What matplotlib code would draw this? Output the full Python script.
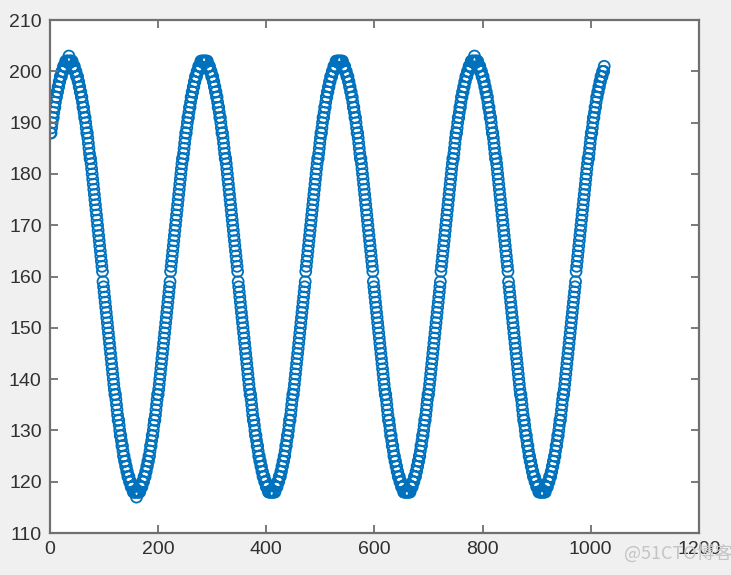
import numpy as np
import matplotlib
matplotlib.use('Agg')
import matplotlib.pyplot as plt

y_values = [
    # x = 1..35 (rising to first peak)
    188, 188, 189, 190, 191, 191, 192, 193, 193, 194, 195, 195, 196, 196, 197, 197, 198, 198, 199, 199,
    199, 200, 200, 200, 201, 201, 201, 201, 202, 202, 202, 202, 202, 202, 203,
    # falling
    202, 202, 202, 202, 202, 202, 201, 201, 201, 201, 200, 200, 200, 199, 199, 199, 198, 198, 197, 197,
    196, 196, 195, 195, 194, 193, 193, 192, 191, 191, 190, 189, 188, 188, 187, 186, 185, 184, 183, 183,
    182, 181, 180, 179, 178, 177, 176, 175, 174, 173, 172, 171, 170, 169, 168, 167, 166, 165, 164, 163,
    162, 161,
    159, 158, 157, 156, 155, 154, 153, 152, 151, 150, 149, 148, 147, 146, 145, 144, 143, 142, 141, 140,
    139, 138, 137, 137, 136, 135, 134, 133, 132, 132, 131, 130, 129, 129, 128, 127, 127, 126, 125, 125,
    124, 124, 123, 123, 122, 122, 121, 121, 121, 120, 120, 120, 119, 119, 119, 119, 118, 118, 118, 118,
    118, 118, 117,
    # rising
    118, 118, 118, 118, 118, 118, 119, 119, 119, 119, 120, 120, 120, 121, 121, 121, 122, 122, 123, 123,
    124, 124, 125, 125, 126, 127, 127, 128, 129, 129, 130, 131, 132, 132, 133, 134, 135, 136, 137, 137,
    138, 139, 140, 141, 142, 143, 144, 145, 146, 147, 148, 149, 150, 151, 152, 153, 154, 155, 156, 157,
    158, 159,
    # second period
    161, 162, 163, 164, 165, 166, 167, 168, 169, 170, 171, 172, 173, 174, 175, 176, 177, 178, 179, 180,
    181, 182, 183, 183, 184, 185, 186, 187, 188, 188, 189, 190, 191, 191, 192, 193, 193, 194, 195, 195,
    196, 196, 197, 197, 198, 198, 199, 199, 199, 200, 200, 200, 201, 201, 201, 201, 202, 202, 202, 202,
    202, 202, 202,
    202, 202, 202, 202, 202, 202, 201, 201, 201, 201, 200, 200, 200, 199, 199, 199, 198, 198, 197, 197,
    196, 196, 195, 195, 194, 193, 193, 192, 191, 191, 190, 189, 188, 188, 187, 186, 185, 184, 183, 183,
    182, 181, 180, 179, 178, 177, 176, 175, 174, 173, 172, 171, 170, 169, 168, 167, 166, 165, 164, 163,
    162, 161,
    159, 158, 157, 156, 155, 154, 153, 152, 151, 150, 149, 148, 147, 146, 145, 144, 143, 142, 141, 140,
    139, 138, 137, 137, 136, 135, 134, 133, 132, 132, 131, 130, 129, 129, 128, 127, 127, 126, 125, 125,
    124, 124, 123, 123, 122, 122, 121, 121, 121, 120, 120, 120, 119, 119, 119, 119, 118, 118, 118, 118,
    118, 118, 118,
    118, 118, 118, 118, 118, 118, 119, 119, 119, 119, 120, 120, 120, 121, 121, 121, 122, 122, 123, 123,
    124, 124, 125, 125, 126, 127, 127, 128, 129, 129, 130, 131, 132, 132, 133, 134, 135, 136, 137, 137,
    138, 139, 140, 141, 142, 143, 144, 145, 146, 147, 148, 149, 150, 151, 152, 153, 154, 155, 156, 157,
    158, 159,
    # third period
    161, 162, 163, 164, 165, 166, 167, 168, 169, 170, 171, 172, 173, 174, 175, 176, 177, 178, 179, 180,
    181, 182, 183, 183, 184, 185, 186, 187, 188, 188, 189, 190, 191, 191, 192, 193, 193, 194, 195, 195,
    196, 196, 197, 197, 198, 198, 199, 199, 199, 200, 200, 200, 201, 201, 201, 201, 202, 202, 202, 202,
    202, 202, 202,
    202, 202, 202, 202, 202, 202, 201, 201, 201, 201, 200, 200, 200, 199, 199, 199, 198, 198, 197, 197,
    196, 196, 195, 195, 194, 193, 193, 192, 191, 191, 190, 189, 188, 188, 187, 186, 185, 184, 183, 183,
    182, 181, 180, 179, 178, 177, 176, 175, 174, 173, 172, 171, 170, 169, 168, 167, 166, 165, 164, 163,
    162, 161,
    159, 158, 157, 156, 155, 154, 153, 152, 151, 150, 149, 148, 147, 146, 145, 144, 143, 142, 141, 140,
    139, 138, 137, 137, 136, 135, 134, 133, 132, 132, 131, 130, 129, 129, 128, 127, 127, 126, 125, 125,
    124, 124, 123, 123, 122, 122, 121, 121, 121, 120, 120, 120, 119, 119, 119, 119, 118, 118, 118, 118,
    118, 118, 118,
    118, 118, 118, 118, 118, 118, 119, 119, 119, 119, 120, 120, 120, 121, 121, 121, 122, 122, 123, 123,
    124, 124, 125, 125, 126, 127, 127, 128, 129, 129, 130, 131, 132, 132, 133, 134, 135, 136, 137, 137,
    138, 139, 140, 141, 142, 143, 144, 145, 146, 147, 148, 149, 150, 151, 152, 153, 154, 155, 156, 157,
    158, 159,
    # fourth period
    161, 162, 163, 164, 165, 166, 167, 168, 169, 170, 171, 172, 173, 174, 175, 176, 177, 178, 179, 180,
    181, 182, 183, 183, 184, 185, 186, 187, 188, 188, 189, 190, 191, 191, 192, 193, 193, 194, 195, 195,
    196, 196, 197, 197, 198, 198, 199, 199, 199, 200, 200, 200, 201, 201, 201, 201, 202, 202, 202, 202,
    202, 202, 203,
    202, 202, 202, 202, 202, 202, 201, 201, 201, 201, 200, 200, 200, 199, 199, 199, 198, 198, 197, 197,
    196, 196, 195, 195, 194, 193, 193, 192, 191, 191, 190, 189, 188, 188, 187, 186, 185, 184, 183, 183,
    182, 181, 180, 179, 178, 177, 176, 175, 174, 173, 172, 171, 170, 169, 168, 167, 166, 165, 164, 163,
    162, 161,
    159, 158, 157, 156, 155, 154, 153, 152, 151, 150, 149, 148, 147, 146, 145, 144, 143, 142, 141, 140,
    139, 138, 137, 137, 136, 135, 134, 133, 132, 132, 131, 130, 129, 129, 128, 127, 127, 126, 125, 125,
    124, 124, 123, 123, 122, 122, 121, 121, 121, 120, 120, 120, 119, 119, 119, 119, 118, 118, 118, 118,
    118, 118, 118,
    118, 118, 118, 118, 118, 118, 119, 119, 119, 119, 120, 120, 120, 121, 121, 121, 122, 122, 123, 123,
    124, 124, 125, 125, 126, 127, 127, 128, 129, 129, 130, 131, 132, 132, 133, 134, 135, 136, 137, 137,
    138, 139, 140, 141, 142, 143, 144, 145, 146, 147, 148, 149, 150, 151, 152, 153, 154, 155, 156, 157,
    158, 159,
    # last partial rise
    161, 162, 163, 164, 165, 166, 167, 168, 169, 170, 171, 172, 173, 174, 175, 176, 177, 178, 179, 180,
    181, 182, 183, 183, 184, 185, 186, 187, 188, 188, 189, 190, 191, 191, 192, 193, 193, 194, 195, 195,
    196, 196, 197, 197, 198, 198, 199, 199, 199, 200, 200, 200, 201,
]

x_ticks = [0, 200, 400, 600, 800, 1000, 1200]
y_ticks = [110, 120, 130, 140, 150, 160, 170, 180, 190, 200, 210]

MATLAB_BLUE = '#0072BD'
SPINE_GRAY = '#707070'
LABEL_GRAY = '#303030'

plt.rcParams['font.family'] = ['Liberation Sans', 'DejaVu Sans']

x_values = np.arange(1, len(y_values) + 1)

fig = plt.figure(figsize=(7.31, 5.75), dpi=100, facecolor='#f0f0f0')
ax = fig.add_axes([0.0684, 0.073, 0.8876, 0.892])
ax.set_facecolor('white')

ax.scatter(x_values, y_values, s=62, facecolors='none',
           edgecolors=MATLAB_BLUE, linewidths=1.3)

ax.set_xlim(0, 1200)
ax.set_ylim(110, 210)
ax.set_xticks(x_ticks)
ax.set_yticks(y_ticks)

for side in ax.spines.values():
    side.set_color(SPINE_GRAY)
    side.set_linewidth(1.6)
ax.tick_params(direction='in', length=6, width=1.3, colors=SPINE_GRAY,
               top=True, right=True, labelsize=14, labelcolor=LABEL_GRAY, pad=6)

# watermark of the source site
fig.text(0.853, 0.038, '@51CTO博客', color='#c4c4c4', fontsize=13,
         family=['Noto Sans CJK SC', 'DejaVu Sans'], va='center')

fig.savefig('out.png', dpi=100, facecolor=fig.get_facecolor())
